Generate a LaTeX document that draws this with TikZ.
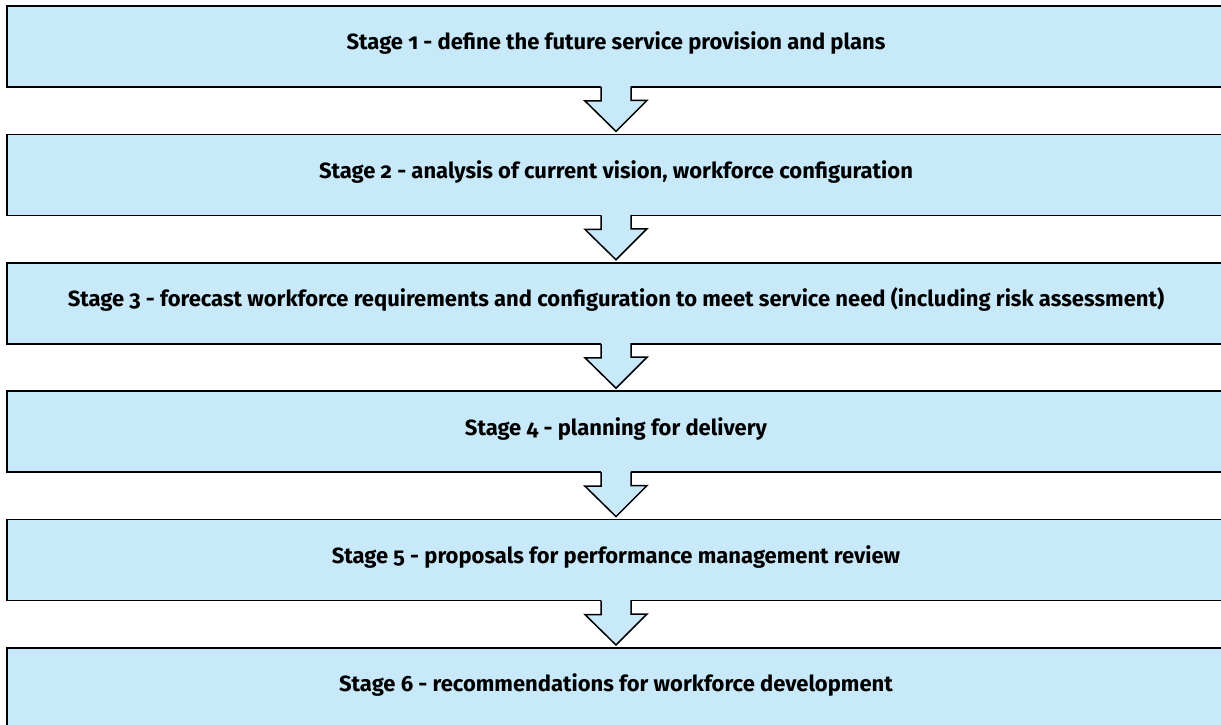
\documentclass[tikz,border=0pt]{standalone}
\usepackage{fontspec}
\setmainfont{Fira Sans}[Numbers=OldStyle]
\usetikzlibrary{positioning}
\definecolor{stageblue}{RGB}{199,233,250}
\begin{document}
\begin{tikzpicture}[x=1pt, y=1pt, line join=miter, font=\fontsize{22}{26}\selectfont\bfseries,
    stagebox/.style={draw, line width=1.5pt, fill=stageblue, minimum width=1218pt, minimum height=81pt,
        inner sep=0pt, outer sep=0pt, text height=0.69em, text depth=0pt}]
    \useasboundingbox (0,0) rectangle (1221,724);
    \clip (0,0) rectangle (1221,724);
    \def\sw{15} \def\hw{16} \def\nd{14} % nửa thân, phần vai, độ sâu khấc
    \node[stagebox] (s1) at (616,677.5) {Stage 1 - define the future service provision and plans};
    \node[stagebox, below=47.4pt of s1] (s2) {Stage 2 - analysis of current vision, workforce configuration};
    \node[stagebox, below=47.4pt of s2] (s3) {Stage 3 - forecast workforce requirements and configuration to meet service need (including risk assessment)};
    \node[stagebox, below=47.4pt of s3] (s4) {Stage 4 - planning for delivery};
    \node[stagebox, below=47.4pt of s4] (s5) {Stage 5 - proposals for performance management review};
    \node[stagebox, below=47.4pt of s5] (s6) {Stage 6 - recommendations for workforce development};
    \foreach \a/\b in {s1/s2,s2/s3,s3/s4,s4/s5,s5/s6}{
        \fill[stageblue] ([xshift=-\sw pt,yshift=2pt]\a.south) -- ++(0,-\nd-2) -- ++(-\hw,0) -- ([yshift=3pt]\b.north) -- ++(\sw+\hw,\sw+\hw) -- ++(-\hw,0) -- ++(0,\nd+2) -- cycle;
        \draw[line width=1.5pt] ([xshift=-\sw pt]\a.south) -- ++(0,-\nd) -- ++(-\hw,0) -- ([yshift=3pt]\b.north) -- ++(\sw+\hw,\sw+\hw) -- ++(-\hw,0) -- ++(0,\nd);
    }
\end{tikzpicture}
\end{document}
